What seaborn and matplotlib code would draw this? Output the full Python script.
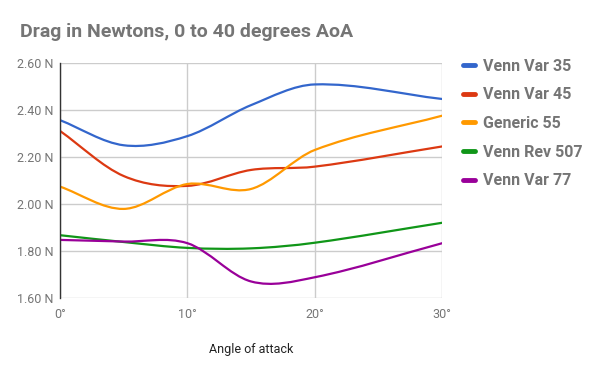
import pandas as pd
import seaborn as sns
import matplotlib.pyplot as plt
from matplotlib.path import Path
from matplotlib.patches import PathPatch

# Dados
angles = [0, 5, 10, 15, 20, 30]
venn_var_35 = [2.357, 2.250, 2.289, 2.421, 2.509, 2.447]
venn_var_45 = [2.311, 2.119, 2.077, 2.145, 2.159, 2.245]
generic_55 = [2.074, 1.979, 2.085, 2.064, 2.230, 2.376]
venn_rev_507 = [1.867, 1.838, 1.813, 1.811, 1.835, 1.920]
venn_var_77 = [1.847, 1.840, 1.833, 1.670, 1.688, 1.833]

series_names = ["Venn Var 35", "Venn Var 45", "Generic 55", "Venn Rev 507", "Venn Var 77"]
colors = ["#3366cc", "#dc3912", "#ff9900", "#109618", "#990099"]

dados = pd.DataFrame({
    "angle": angles * 5,
    "drag": venn_var_35 + venn_var_45 + generic_55 + venn_rev_507 + venn_var_77,
    "series": [n for n in series_names for _ in angles],
})


def smooth_path(xs, ys):
    # curva suave (Hermite -> Bezier) passando pelos pontos
    n = len(xs)
    m = []
    for i in range(n):
        a = max(i - 1, 0)
        b = min(i + 1, n - 1)
        m.append((ys[b] - ys[a]) / (xs[b] - xs[a]))
    verts = [(xs[0], ys[0])]
    codes = [Path.MOVETO]
    for i in range(n - 1):
        dx = (xs[i + 1] - xs[i]) / 3
        verts += [(xs[i] + dx, ys[i] + m[i] * dx),
                  (xs[i + 1] - dx, ys[i + 1] - m[i + 1] * dx),
                  (xs[i + 1], ys[i + 1])]
        codes += [Path.CURVE4] * 3
    return Path(verts, codes)


sns.set_theme(style="white")
plt.rcParams["font.family"] = ["Roboto", "DejaVu Sans"]

fig = plt.figure(figsize=(6, 3.71), dpi=100)
ax = fig.add_axes([0.1, 0.197, 0.637, 0.633])

sns.lineplot(data=dados, x="angle", y="drag", hue="series", palette=colors, ax=ax, linewidth=2)

# trocar as linhas retas por curvas suaves
for line in ax.lines:
    line.set_visible(False)
for nome, cor in zip(series_names, colors):
    sub = dados[dados["series"] == nome]
    patch = PathPatch(smooth_path(list(sub["angle"]), list(sub["drag"])),
                      facecolor="none", edgecolor=cor, lw=1.6, capstyle="round", zorder=3)
    ax.add_patch(patch)

ax.set_xlim(0, 30)
ax.set_ylim(1.6, 2.6)
ax.set_xticks([0, 10, 20, 30])
ax.set_xticklabels([f"{v}°" for v in [0, 10, 20, 30]])
yt = [1.6, 1.8, 2.0, 2.2, 2.4, 2.6]
ax.set_yticks(yt)
ax.set_yticklabels([f"{v:.2f} N" for v in yt])
ax.tick_params(axis="both", length=0, labelsize=9, labelcolor="#757575")
ax.tick_params(axis="x", pad=7)
ax.tick_params(axis="y", pad=5)
ax.grid(True, color="#cccccc", linewidth=1)
ax.set_axisbelow(True)
for s in ["top", "right", "bottom"]:
    ax.spines[s].set_visible(False)
ax.spines["left"].set_color("#333333")
ax.spines["left"].set_linewidth(1)
ax.spines["left"].set_zorder(4)

ax.set_xlabel("Angle of attack", fontsize=9, color="#222222", labelpad=16)
ax.set_ylabel("")

leg = ax.get_legend()
handles = leg.legend_handles
labels = [t.get_text() for t in leg.get_texts()]
leg.remove()
for h in handles:
    h.set_linewidth(3.5)
leg = fig.legend(handles, labels, loc="upper left", bbox_to_anchor=(0.747, 0.880),
                 frameon=False, handlelength=0.75, handletextpad=0.55, labelspacing=0.85,
                 prop={"size": 11.5, "weight": "bold"})
for t in leg.get_texts():
    t.set_color("#757575")

fig.text(0.033, 0.900, "Drag in Newtons, 0 to 40 degrees AoA", fontsize=14,
         fontweight="bold", color="#757575")

plt.savefig("out.png", dpi=100)
